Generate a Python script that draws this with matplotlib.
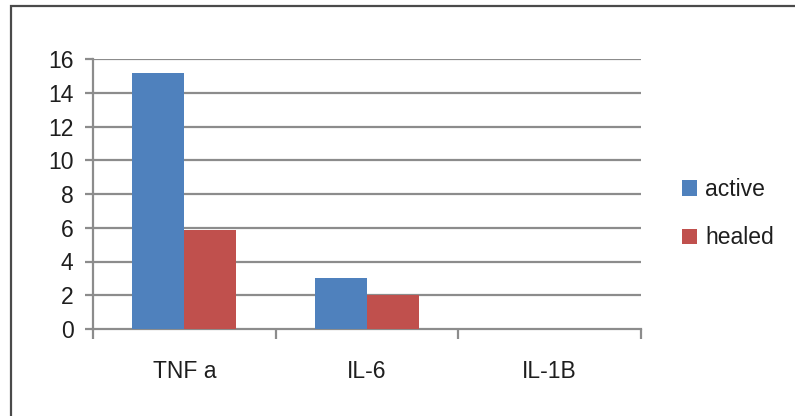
import matplotlib
matplotlib.use("Agg")
import matplotlib.pyplot as plt
import numpy as np
from matplotlib.patches import Rectangle

categories = ["TNF a", "IL-6", "IL-1B"]
active = [15.2, 3.0, 0.0]
healed = [5.85, 2.0, 0.0]
y_ticks = [0, 2, 4, 6, 8, 10, 12, 14, 16]

plt.rcParams["font.family"] = ["Liberation Sans", "DejaVu Sans"]
FS = 16.5
GRID = "#8c8c8c"

fig = plt.figure(figsize=(7.95, 4.16), dpi=100)
ax = fig.add_axes([93 / 795, 1 - 329 / 416, (641 - 93) / 795, (329 - 59) / 416])

x = np.arange(len(categories))
w = 0.285
ax.bar(x - w / 2, active, w, color="#4F81BD", label="active", zorder=3)
ax.bar(x + w / 2, healed, w, color="#C0504D", label="healed", zorder=3)

ax.set_xlim(-0.5, len(categories) - 0.5)
ax.set_ylim(0, 16)
ax.set_yticks(y_ticks)
ax.set_yticklabels([str(v) for v in y_ticks], fontsize=FS, color="#1e1e1e")
for v in y_ticks[1:]:
    ax.axhline(v, color=GRID, lw=1.6, zorder=1)

# category labels centred, tick marks on the category boundaries
ax.set_xticks(x)
ax.set_xticklabels(categories, fontsize=FS, color="#1e1e1e")
ax.tick_params(axis="x", length=0, pad=22)
ax.set_xticks(np.arange(-0.5, len(categories)), minor=True)
ax.tick_params(axis="x", which="minor", length=7, width=1.6, color=GRID, direction="out")
ax.tick_params(axis="y", length=6, width=1.6, color=GRID, pad=8)

for s in ["top", "right"]:
    ax.spines[s].set_visible(False)
for s in ["left", "bottom"]:
    ax.spines[s].set_color(GRID)
    ax.spines[s].set_linewidth(1.6)

leg = fig.legend(loc="upper left", bbox_to_anchor=(682 / 795, 1 - 178 / 416),
                 frameon=False, fontsize=FS, handlelength=0.65, handleheight=0.65,
                 handletextpad=0.35, labelspacing=1.1, borderaxespad=0, borderpad=0)
for t in leg.get_texts():
    t.set_color("#1e1e1e")

# outer chart frame
fig.add_artist(Rectangle((11 / 795, -0.2), 1.0, 1 - 6 / 416 + 0.2,
                         transform=fig.transFigure, fill=False,
                         edgecolor="#4a4a4a", lw=1.6))

fig.savefig("out.png", dpi=100)
